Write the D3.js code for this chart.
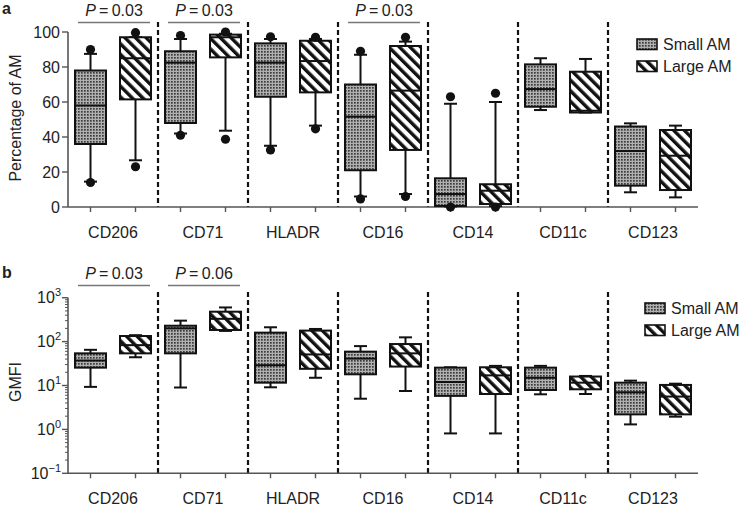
<!DOCTYPE html>
<html><head><meta charset="utf-8">
<script src="https://cdn.jsdelivr.net/npm/d3@7"></script>
<style>
body{margin:0;background:#fff;}
text{font-family:"Liberation Sans",Arial,Helvetica,sans-serif;fill:#222;}
</style></head>
<body>
<svg id="chart" width="742" height="508"></svg>
<script>
// ---------- DATA ----------
const categories = ["CD206","CD71","HLADR","CD16","CD14","CD11c","CD123"];
const seriesNames = ["Small AM","Large AM"];

// Panel a: Percentage of AM
const aSmallQ1  = [36, 48, 63, 21, 0.6, 57.3, 12.2];
const aSmallMed = [58, 82.5, 82.5, 51.6, 7.4, 67.4, 32];
const aSmallQ3  = [78, 89, 93.5, 70, 16.4, 81.5, 46];
const aSmallLo  = [14.5, 42, 35, 6, 0.3, 55.4, 8.4];
const aSmallHi  = [87.5, 96, 96, 87, 59, 85, 47.8];
const aSmallDotLo = [14, 41, 32.6, 4.6, 0, null, null];
const aSmallDotHi = [90, 98, 97.3, 89, 63, null, null];

const aLargeQ1  = [61.5, 85.5, 65.5, 32.6, 1.7, 54, 9.7];
const aLargeMed = [85, 97, 83.4, 66.5, 9.3, 55, 29.3];
const aLargeQ3  = [97, 98.5, 95, 92, 13, 77.3, 44];
const aLargeLo  = [26.7, 43.6, 46.5, 7.4, 0.5, 54, 5.5];
const aLargeHi  = [97, 99, 96, 94.5, 60, 84.6, 46.5];
const aLargeDotLo = [23, 38.7, 44.7, 6, 0, null, null];
const aLargeDotHi = [99.6, 100, 97, 97, 65, null, null];

// Panel b: GMFI (log scale)
const bSmallQ1  = [25.5, 54, 11.6, 18, 5.8, 7.9, 2.2];
const bSmallMed = [37, 200, 29, 41, 12, 15, 7];
const bSmallQ3  = [54, 230, 160, 59, 25.5, 25.5, 11.6];
const bSmallLo  = [9.3, 9, 9.1, 5, 0.81, 6.3, 1.3];
const bSmallHi  = [65, 300, 212, 79, 26, 28, 12.9];

const bLargeQ1  = [54, 184, 24, 27, 6.4, 8.2, 2.2];
const bLargeMed = [83, 330, 51, 54, 17, 11.6, 5.6];
const bLargeQ3  = [134, 480, 178, 88, 26, 16, 10.3];
const bLargeLo  = [44, 175, 15, 7.5, 0.81, 6.4, 1.95];
const bLargeHi  = [140, 600, 194, 125, 28, 16.5, 11];

const aTicks = [0, 20, 40, 60, 80, 100];
const bTickExps = [-1, 0, 1, 2, 3];

const aPvalues = [{cat:"CD206", label:"0.03"}, {cat:"CD71", label:"0.03"}, {cat:"CD16", label:"0.03"}];
const bPvalues = [{cat:"CD206", label:"0.03"}, {cat:"CD71", label:"0.06"}];

// ---------- SETUP ----------
const svg = d3.select("#chart");
const defs = svg.append("defs");
const pSmall = defs.append("pattern").attr("id","patSmall")
  .attr("patternUnits","userSpaceOnUse").attr("width",3).attr("height",3);
pSmall.append("rect").attr("width",3).attr("height",3).attr("fill","#b0b0b0");
pSmall.append("rect").attr("width",1.7).attr("height",1.7).attr("fill","#3c3c3c");
const pLarge = defs.append("pattern").attr("id","patLarge")
  .attr("patternUnits","userSpaceOnUse").attr("width",7.5).attr("height",7.5)
  .attr("patternTransform","rotate(-45)");
pLarge.append("rect").attr("width",7.5).attr("height",7.5).attr("fill","#fff");
pLarge.append("rect").attr("width",3.4).attr("height",7.5).attr("fill","#111");
const fills = ["url(#patSmall)","url(#patLarge)"];

const x0 = d3.scaleBand().domain(categories).range([68, 698]).padding(0);
const x1 = d3.scaleBand().domain(seriesNames).range([0, x0.bandwidth()]).padding(0);
const boxW = 31, capW = 13;
const axisCol = "#555";

function buildRows(s) {
  return categories.map((c,i)=>({cat:c, q1:s.q1[i], med:s.med[i], q3:s.q3[i], lo:s.lo[i], hi:s.hi[i],
    dlo: s.dlo ? s.dlo[i] : null, dhi: s.dhi ? s.dhi[i] : null}));
}

function drawPanel(opts) {
  const {y, baseY, topDash, series, pvals, pLineY, pTextY, legendX, legendY} = opts;
  const g = svg.append("g");

  categories.slice(0, categories.length-1).forEach(c=>{
    const xx = x0(c) + x0.bandwidth();
    g.append("line").attr("x1",xx).attr("x2",xx).attr("y1",topDash).attr("y2",baseY)
      .attr("stroke","#111").attr("stroke-width",2.2).attr("stroke-dasharray","5,3");
  });

  g.append("line").attr("x1",68).attr("x2",698).attr("y1",baseY).attr("y2",baseY)
    .attr("stroke",axisCol).attr("stroke-width",1.6);
  categories.forEach(c=>{
    seriesNames.forEach(s=>{
      const cx = x0(c)+x1(s)+x1.bandwidth()/2;
      g.append("line").attr("x1",cx).attr("x2",cx).attr("y1",baseY).attr("y2",baseY+5)
        .attr("stroke",axisCol).attr("stroke-width",1.4);
    });
    g.append("text").attr("x",x0(c)+x0.bandwidth()/2).attr("y",baseY+31)
      .attr("text-anchor","middle").attr("font-size",16).text(c);
  });

  series.forEach((rows, si)=>{
    const sname = seriesNames[si];
    rows.forEach(d=>{
      const cx = x0(d.cat)+x1(sname)+x1.bandwidth()/2;
      const bg = g.append("g");
      bg.append("line").attr("x1",cx).attr("x2",cx).attr("y1",y(d.q3)).attr("y2",y(d.hi))
        .attr("stroke","#111").attr("stroke-width",2);
      bg.append("line").attr("x1",cx).attr("x2",cx).attr("y1",y(d.q1)).attr("y2",y(d.lo))
        .attr("stroke","#111").attr("stroke-width",2);
      [d.hi, d.lo].forEach(v=>{
        bg.append("line").attr("x1",cx-capW/2).attr("x2",cx+capW/2).attr("y1",y(v)).attr("y2",y(v))
          .attr("stroke","#111").attr("stroke-width",2);
      });
      bg.append("rect").attr("x",cx-boxW/2).attr("width",boxW)
        .attr("y",y(d.q3)).attr("height",Math.max(1,y(d.q1)-y(d.q3)))
        .attr("fill",fills[si]).attr("stroke","#111").attr("stroke-width",2);
      bg.append("line").attr("x1",cx-boxW/2).attr("x2",cx+boxW/2).attr("y1",y(d.med)).attr("y2",y(d.med))
        .attr("stroke","#111").attr("stroke-width",2);
      [d.dlo, d.dhi].forEach(v=>{
        if (v!==null && v!==undefined) {
          bg.append("circle").attr("cx",cx).attr("cy",y(v)).attr("r",4.6).attr("fill","#111");
        }
      });
    });
  });

  pvals.forEach(p=>{
    const xs = x0(p.cat), xe = xs + x0.bandwidth();
    g.append("line").attr("x1",xs+10).attr("x2",xe-8).attr("y1",pLineY).attr("y2",pLineY)
      .attr("stroke","#777").attr("stroke-width",1.5);
    const t = g.append("text").attr("x",(xs+xe)/2+1).attr("y",pTextY).attr("text-anchor","middle").attr("font-size",16);
    t.append("tspan").attr("font-style","italic").text("P");
    t.append("tspan").text("\u2009=\u2009" + p.label);
  });

  seriesNames.forEach((s,i)=>{
    const ly = legendY + i*22;
    g.append("rect").attr("x",legendX).attr("y",ly-11).attr("width",20).attr("height",10.5)
      .attr("fill",fills[i]).attr("stroke","#111").attr("stroke-width",1.6);
    g.append("text").attr("x",legendX+26).attr("y",ly).attr("font-size",16).text(s);
  });
  return g;
}

// ---------- PANEL A ----------
const yA = d3.scaleLinear().domain([0,100]).range([207, 32]);
const gA = drawPanel({
  y: yA, baseY: 207, topDash: 22,
  series: [
    buildRows({q1:aSmallQ1,med:aSmallMed,q3:aSmallQ3,lo:aSmallLo,hi:aSmallHi,dlo:aSmallDotLo,dhi:aSmallDotHi}),
    buildRows({q1:aLargeQ1,med:aLargeMed,q3:aLargeQ3,lo:aLargeLo,hi:aLargeHi,dlo:aLargeDotLo,dhi:aLargeDotHi})
  ],
  pvals: aPvalues, pLineY: 22.5, pTextY: 15.5, legendX: 637, legendY: 50
});
gA.append("line").attr("x1",68).attr("x2",68).attr("y1",yA(100)).attr("y2",207)
  .attr("stroke",axisCol).attr("stroke-width",1.6);
aTicks.forEach(v=>{
  gA.append("line").attr("x1",62).attr("x2",68).attr("y1",yA(v)).attr("y2",yA(v))
    .attr("stroke",axisCol).attr("stroke-width",1.4);
  gA.append("text").attr("x",60).attr("y",yA(v)+5.5).attr("text-anchor","end").attr("font-size",16).text(v);
});
gA.append("text").attr("transform","translate(21,118) rotate(-90)").attr("text-anchor","middle")
  .attr("font-size",16).text("Percentage of AM");
svg.append("text").attr("x",2).attr("y",14).attr("font-size",16).attr("font-weight","bold").text("a");

// ---------- PANEL B ----------
const yB = d3.scaleLog().domain([0.1,1000]).range([473.3, 297.7]);
const gB = drawPanel({
  y: yB, baseY: 473.3, topDash: 292,
  series: [
    buildRows({q1:bSmallQ1,med:bSmallMed,q3:bSmallQ3,lo:bSmallLo,hi:bSmallHi}),
    buildRows({q1:bLargeQ1,med:bLargeMed,q3:bLargeQ3,lo:bLargeLo,hi:bLargeHi})
  ],
  pvals: bPvalues, pLineY: 285.5, pTextY: 278.5, legendX: 645, legendY: 314
});
gB.append("line").attr("x1",68).attr("x2",68).attr("y1",yB(1000)).attr("y2",473.3)
  .attr("stroke",axisCol).attr("stroke-width",1.6);
yB.ticks(40).forEach(v=>{
  const isMajor = Math.abs(Math.log10(v) - Math.round(Math.log10(v))) < 1e-9;
  gB.append("line").attr("x1",isMajor?62:65).attr("x2",68).attr("y1",yB(v)).attr("y2",yB(v))
    .attr("stroke",axisCol).attr("stroke-width",isMajor?1.4:1);
});
bTickExps.forEach(e=>{
  const t = gB.append("text").attr("x",61).attr("y",yB(Math.pow(10,e))+5.5).attr("text-anchor","end").attr("font-size",16);
  t.append("tspan").text("10");
  t.append("tspan").attr("dy",-7).attr("font-size",11).text(e<0 ? "\u2212" + Math.abs(e) : String(e));
});
gB.append("text").attr("transform","translate(21,382) rotate(-90)").attr("text-anchor","middle")
  .attr("font-size",16).text("GMFI");
svg.append("text").attr("x",2).attr("y",278).attr("font-size",16).attr("font-weight","bold").text("b");
</script>
</body></html>
